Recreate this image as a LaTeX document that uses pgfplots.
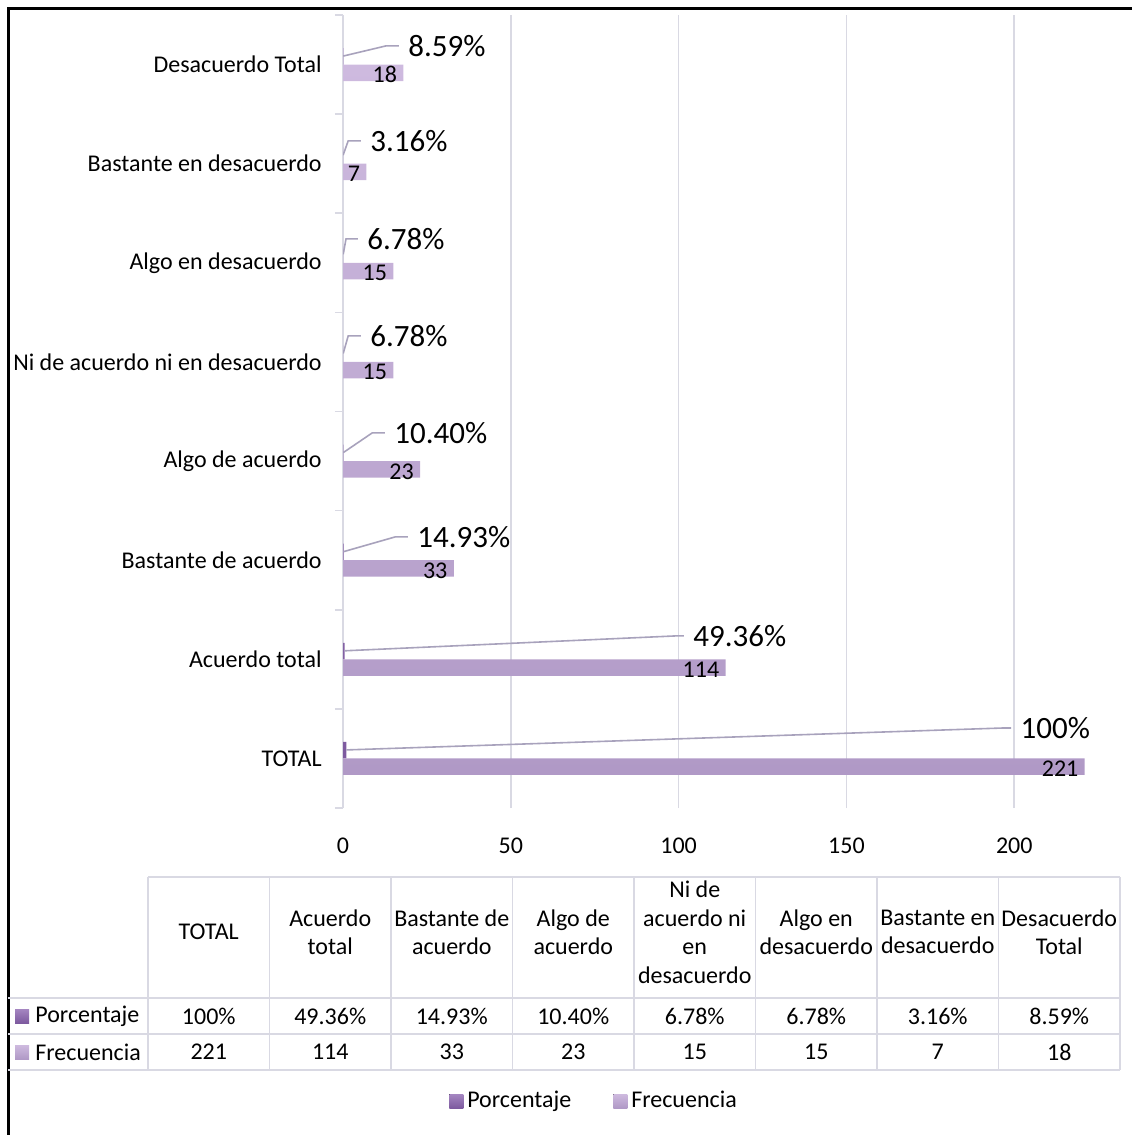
\documentclass[border=0pt]{standalone}
\usepackage{pgfplots}
\pgfplotsset{compat=1.18}
\usepackage{fontspec}
\setmainfont{Carlito}
\definecolor{frecT}{HTML}{CEBADF}
\definecolor{frecB}{HTML}{B099C6}
\definecolor{pctT}{HTML}{A586C1}
\definecolor{pctB}{HTML}{7D5A9F}
\definecolor{gridc}{HTML}{D9D9E3}
\definecolor{leadc}{HTML}{A8A2BC}
\newcommand{\fs}{\fontsize{12}{14.25}\selectfont}
\newcommand{\pctlabel}[8]{%
  \draw[leadc, line width=0.8pt] (axis cs:#1,#2) -- (axis cs:#3,#5) -- (axis cs:#4,#5);
  \node[anchor=west, inner sep=0pt, font=\fontsize{15.5}{18}\selectfont] at (axis cs:#6,#5) {#8};
}
\begin{document}
\begin{tikzpicture}
\useasboundingbox (0,0) rectangle (565.5pt,-567.5pt);
\draw[black, line width=1.6pt] (4.2pt,-600pt) -- (4.2pt,-4.2pt) -- (600pt,-4.2pt);
\begin{axis}[
  at={(171.5pt,-404pt)}, anchor=south west,
  scale only axis, width=391pt, height=396.5pt,
  xbar, bar width=8.25pt,
  xmin=0, xmax=233, ymin=-0.5, ymax=7.5,
  xtick={0,50,100,150,200},
  xmajorgrids, grid style={gridc, line width=0.8pt},
  ytick={0,...,7},
  yticklabels={TOTAL, Acuerdo total, Bastante de acuerdo, Algo de acuerdo, Ni de acuerdo ni en desacuerdo, Algo en desacuerdo, Bastante en desacuerdo, Desacuerdo Total},
  minor ytick={-0.5,0.5,...,7.5},
  major tick length=0pt, minor tick length=4pt,
  tick align=outside,
  minor tick style={gridc, line width=0.8pt},
  axis x line*=bottom, axis y line*=left,
  x axis line style={draw=none},
  y axis line style={gridc, line width=0.8pt},
  /pgf/number format/assume math mode=true,
  tick label style={font=\fs, inner sep=0pt},
  yticklabel style={xshift=-10.5pt},
  xticklabel style={yshift=-15pt},
  legend style={at={(0.3223,-0.3695)}, anchor=center, draw=none, fill=none, font=\fs,
     legend columns=2, /tikz/every even column/.append style={column sep=19pt},
     inner sep=0pt},
  legend image code/.code={\fill[#1,draw=none] (0pt,-3.5pt) rectangle (7pt,3.5pt);},
]
\addplot[bar shift=4.125pt, draw=none, top color=pctT, bottom color=pctB]
  coordinates {(1,0) (0.4936,1) (0.1493,2) (0.1040,3) (0.0678,4) (0.0678,5) (0.0316,6) (0.0859,7)};
\addlegendentry{Porcentaje}
\addplot[bar shift=-4.125pt, draw=none, top color=frecT, bottom color=frecB,
  nodes near coords, point meta=x,
  every node near coord/.append style={anchor=east, xshift=-3pt, yshift=-1pt, inner sep=0pt, font=\fs, text=black}]
  coordinates {(221,0) (114,1) (33,2) (23,3) (15,4) (15,5) (7,6) (18,7)};
\addlegendentry{Frecuencia}
\pctlabel{0.0859}{7.086}{12.87}{16.67}{7.189}{19.37}{}{8.59\%}
\pctlabel{0.0316}{6.086}{1.55}{5.35}{6.231}{8.05}{}{3.16\%}
\pctlabel{0.0678}{5.086}{0.9}{4.45}{5.242}{7.15}{}{6.78\%}
\pctlabel{0.0678}{4.086}{1.55}{5.35}{4.263}{8.05}{}{6.78\%}
\pctlabel{0.1040}{3.086}{8.7}{12.5}{3.284}{15.2}{}{10.40\%}
\pctlabel{0.1493}{2.086}{15.56}{19.36}{2.235}{22.06}{}{14.93\%}
\pctlabel{0.4936}{1.086}{99.0}{101.6}{1.236}{104.3}{}{49.36\%}
\pctlabel{1}{0.086}{196.5}{199.1}{0.307}{201.8}{}{100\%}
\end{axis}
% data table
\begin{scope}[gridc, line width=0.9pt]
\foreach \x in {74,134.75,195.5,256.25,317,377.75,438.5,499.25,560}
  \draw (\x pt,-438.5pt) -- (\x pt,-535pt);
\draw (74pt,-438.5pt) -- (560pt,-438.5pt);
\foreach \y in {-499,-517,-535}
  \draw (4.2pt,\y pt) -- (560pt,\y pt);
\end{scope}
\begin{scope}[every node/.style={font=\fs, align=center, inner sep=0pt}]
\node at (104.375pt,-466pt) {TOTAL};
\node at (165.125pt,-466pt) {Acuerdo\\total};
\node at (225.875pt,-466pt) {Bastante de\\acuerdo};
\node at (286.625pt,-466pt) {Algo de\\acuerdo};
\node at (347.375pt,-466pt) {Ni de\\acuerdo ni\\en\\desacuerdo};
\node at (408.125pt,-466pt) {Algo en\\desacuerdo};
\node at (468.875pt,-466pt) {Bastante en\\desacuerdo};
\node at (529.625pt,-466pt) {Desacuerdo\\Total};
\foreach \x/\t in {104.375/100\%,165.125/49.36\%,225.875/14.93\%,286.625/10.40\%,347.375/6.78\%,408.125/6.78\%,468.875/3.16\%,529.625/8.59\%}
  \node at (\x pt,-508pt) {\t};
\foreach \x/\t in {104.375/221,165.125/114,225.875/33,286.625/23,347.375/15,408.125/15,468.875/7,529.625/18}
  \node at (\x pt,-526pt) {\t};
\fill[top color=pctT, bottom color=pctB] (7.5pt,-504.5pt) rectangle (14.5pt,-511.5pt);
\fill[top color=frecT, bottom color=frecB] (7.5pt,-522.5pt) rectangle (14.5pt,-529.5pt);
\node[anchor=west] at (17.5pt,-508pt) {Porcentaje};
\node[anchor=west] at (17.5pt,-526pt) {Frecuencia};
\end{scope}
\end{tikzpicture}
\end{document}
